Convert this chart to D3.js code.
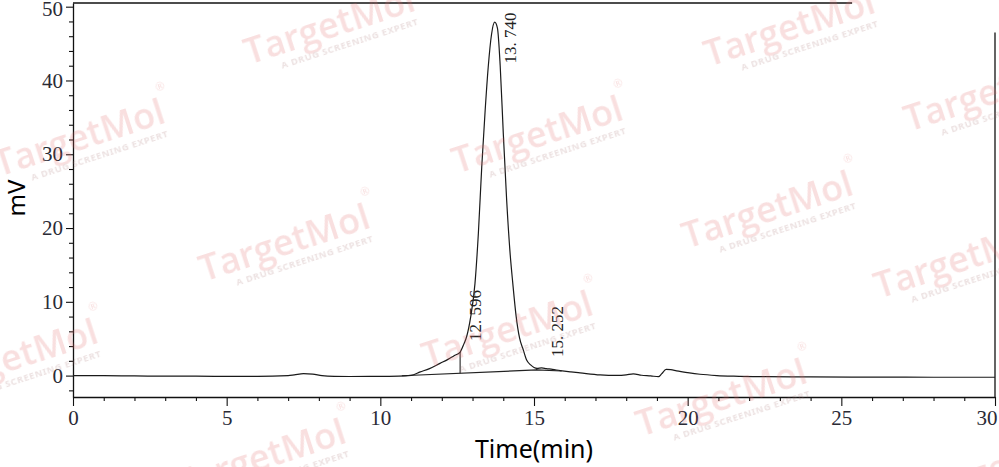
<!DOCTYPE html>
<html>
<head>
<meta charset="utf-8">
<script src="https://cdn.jsdelivr.net/npm/d3@7"></script>
<style>
  body { margin: 0; background: #fff; }
</style>
</head>
<body>
<div id="chart"></div>
<script>
// chromatogram trace (time in min, signal in mV)
var traceTime = [0, 1, 2, 3, 4, 5, 6, 7, 7.2, 7.5, 7.8, 8.1, 8.5, 9, 10, 10.6, 11.0, 11.3, 11.6, 11.94,
    12.2, 12.4, 12.59, 12.72, 12.81, 12.94, 13.08, 13.19, 13.30, 13.41, 13.51, 13.62, 13.72, 13.81,
    13.90, 14.0, 14.11, 14.22, 14.31, 14.42, 14.53, 14.65, 14.76, 14.89, 15.0, 15.1, 15.25, 15.4,
    15.6, 15.85, 16.2, 16.5, 17.15, 17.7, 18.0, 18.23, 18.5, 18.8, 19.05, 19.15, 19.3, 19.45, 19.64,
    20.0, 20.4, 20.95, 21.5, 22.57, 24, 26, 28, 30];
var traceMV = [0, 0, -0.05, -0.07, -0.08, -0.1, -0.1, 0, 0.1, 0.27, 0.2, 0, -0.1, -0.12, -0.1, -0.07, 0.04, 0.5, 0.95, 1.66,
    2.2, 2.7, 3.15, 4.3, 5.3, 7.95, 12.5, 19.3, 28.3, 35.9, 41.8, 46.3, 47.9, 47.1,
    42.0, 32.9, 23.8, 16.7, 12.5, 8.0, 5.1, 3.5, 2.1, 1.45, 1.1, 0.98, 1.04, 0.95,
    0.85, 0.68, 0.5, 0.37, 0.1, 0.03, 0.1, 0.23, 0.05, -0.04, -0.15, 0.23, 0.84, 0.8, 0.64,
    0.4, 0.18, 0.01, -0.08, -0.15, -0.18, -0.2, -0.22, -0.22];

// integrated peaks
var peakTimes = [12.596, 13.740, 15.252];
var peakLabels = ["12. 596", "13. 740", "15. 252"];

// integration baseline and drop lines
var baseTime = [10.7, 15.09, 15.9];
var baseMV = [-0.02, 0.77, 0.62];
var dropTimes = [12.596, 15.09];

// axis ticks
var xMajorTicks = [0, 5, 10, 15, 20, 25, 30];
var xMinorTicks = [1, 2, 3, 4, 6, 7, 8, 9, 11, 12, 13, 14, 16, 17, 18, 19, 21, 22, 23, 24, 26, 27, 28, 29];
var yMajorTicks = [0, 10, 20, 30, 40, 50];
var yMinorTicks = [-2, 2, 4, 6, 8, 12, 14, 16, 18, 22, 24, 26, 28, 32, 34, 36, 38, 42, 44, 46, 48];

// watermark centres (page pixels)
var markX = [330, 790, 990, 80, 538, 768, 285, 960, 13, 508, 722, 261, 1000];
var markY = [28, 30, 95, 140, 137, 212, 245, 262, 360, 332, 400, 460, 470];

function main(){
    var width = 999, height = 467;

    var svg = d3.select("#chart").append("svg")
        .attr("width", width)
        .attr("height", height);

    var x = d3.scaleLinear().domain([0, 30]).range([73, 995]);
    var y = d3.scaleLinear().domain([-2.9, 50.5]).range([397, 3]);

    var data = traceTime.map(function(t, i){ return {t: t, v: traceMV[i]}; });

    // value of the trace at any time (linear between read points)
    function traceAt(t){
        var i = d3.bisectLeft(traceTime, t);
        if (i <= 0) return traceMV[0];
        if (i >= traceTime.length) return traceMV[traceMV.length - 1];
        var t0 = traceTime[i-1], t1 = traceTime[i];
        return traceMV[i-1] + (traceMV[i] - traceMV[i-1]) * (t - t0) / (t1 - t0);
    }
    function baseAt(t){
        var i = d3.bisectLeft(baseTime, t);
        i = Math.max(1, Math.min(baseTime.length - 1, i));
        var t0 = baseTime[i-1], t1 = baseTime[i];
        return baseMV[i-1] + (baseMV[i] - baseMV[i-1]) * (t - t0) / (t1 - t0);
    }

    // partial frame, top and right
    svg.append("line")
        .attr("x1", x(0)).attr("x2", x(25.35))
        .attr("y1", y(50.5)).attr("y2", y(50.5))
        .attr("stroke", "#111").attr("stroke-width", 1.3);
    svg.append("line")
        .attr("x1", x(30)).attr("x2", x(30))
        .attr("y1", y(46.5)).attr("y2", y(-2.9))
        .attr("stroke", "#111").attr("stroke-width", 1.3);

    // X axis
    var xAxis = svg.append("g")
        .attr("transform", "translate(0," + y(-2.9) + ")")
        .call(d3.axisBottom(x).tickValues(xMajorTicks).tickSize(9).tickSizeOuter(0).tickPadding(4)
            .tickFormat(d3.format("d")));
    // last label sits flush against the right edge
    xAxis.selectAll(".tick text")
        .filter(function(d){ return d === 30; })
        .attr("text-anchor", "end")
        .attr("dx", "2px");
    svg.append("g")
        .attr("transform", "translate(0," + y(-2.9) + ")")
        .call(d3.axisBottom(x).tickValues(xMinorTicks).tickSize(4).tickSizeOuter(0).tickFormat(""))
        .select(".domain").remove();

    // Y axis
    var yAxis = svg.append("g")
        .attr("transform", "translate(" + x(0) + ",0)")
        .call(d3.axisLeft(y).tickValues(yMajorTicks).tickSize(7).tickSizeOuter(0).tickPadding(3)
            .tickFormat(d3.format("d")));
    yAxis.selectAll(".tick text")
        .filter(function(d){ return d === 50; })
        .attr("dy", "0.4em");
    svg.append("g")
        .attr("transform", "translate(" + x(0) + ",0)")
        .call(d3.axisLeft(y).tickValues(yMinorTicks).tickSize(4).tickSizeOuter(0).tickFormat(""))
        .select(".domain").remove();

    svg.selectAll(".domain").attr("stroke", "#111").attr("stroke-width", 1.3);
    svg.selectAll(".tick line").attr("stroke", "#111").attr("stroke-width", 1.1);
    svg.selectAll(".tick text")
        .attr("font-family", "'Liberation Serif', 'DejaVu Serif', serif")
        .attr("font-size", "21px")
        .attr("fill", "#2a2a35");

    // axis titles
    svg.append("text")
        .attr("x", 534).attr("y", 458)
        .attr("text-anchor", "middle")
        .attr("font-family", "'Noto Sans', sans-serif")
        .attr("font-size", "25px")
        .attr("fill", "#000")
        .text("Time(min)");
    svg.append("text")
        .attr("transform", "translate(25,198) rotate(-90)")
        .attr("text-anchor", "middle")
        .attr("font-family", "'Noto Sans', sans-serif")
        .attr("font-size", "24px")
        .attr("fill", "#000")
        .text("mV");

    // integration baseline
    var line = d3.line()
        .x(function(d){ return x(d.t); })
        .y(function(d){ return y(d.v); });
    svg.append("path")
        .datum(baseTime.map(function(t, i){ return {t: t, v: baseMV[i]}; }))
        .attr("d", line)
        .attr("fill", "none")
        .attr("stroke", "#222")
        .attr("stroke-width", 1.1);

    // drop lines
    svg.selectAll(".drop")
        .data(dropTimes)
        .enter().append("line")
        .attr("class", "drop")
        .attr("x1", function(d){ return x(d); })
        .attr("x2", function(d){ return x(d); })
        .attr("y1", function(d){ return y(baseAt(d)); })
        .attr("y2", function(d){ return y(traceAt(d)); })
        .attr("stroke", "#222")
        .attr("stroke-width", 1.1);

    // trace
    svg.append("path")
        .datum(data)
        .attr("d", line.curve(d3.curveMonotoneX))
        .attr("fill", "none")
        .attr("stroke", "#1a1a1a")
        .attr("stroke-width", 1.2);

    // peak retention time labels
    svg.selectAll(".peak")
        .data(peakTimes)
        .enter().append("text")
        .attr("class", "peak")
        .attr("transform", function(d){
            var py = y(traceAt(d));
            var ly = py - 11;
            if (ly - 52 < y(50.5)) ly = py + 40;   // no room above: put it below the apex
            return "translate(" + (x(d) + 21) + "," + ly + ") rotate(-90)";
        })
        .attr("font-family", "'Liberation Serif', 'DejaVu Serif', serif")
        .attr("font-size", "17px")
        .attr("fill", "#222")
        .text(function(d, i){ return peakLabels[i]; });

    // watermarks
    var marks = svg.append("g").attr("opacity", 0.22).attr("pointer-events", "none");
    markX.forEach(function(mx, i){
        var g = marks.append("g")
            .attr("transform", "translate(" + mx + "," + markY[i] + ") rotate(-18)");
        g.append("text")
            .attr("text-anchor", "middle")
            .attr("y", 10)
            .attr("font-family", "'Open Sans', 'Noto Sans', sans-serif")
            .attr("font-size", "36px")
            .attr("font-weight", 600)
            .attr("fill", "rgb(225,110,110)")
            .text("TargetMol");
        g.append("text")
            .attr("x", 88).attr("y", -22)
            .attr("font-family", "'Noto Sans', sans-serif")
            .attr("font-size", "11px")
            .attr("fill", "rgb(225,110,110)")
            .text("®");
        g.append("text")
            .attr("x", 14).attr("y", 24)
            .attr("text-anchor", "middle")
            .attr("font-family", "'Noto Sans', sans-serif")
            .attr("font-size", "9.5px")
            .attr("font-weight", 700)
            .attr("letter-spacing", "0.6px")
            .attr("fill", "rgb(170,120,120)")
            .text("A DRUG SCREENING EXPERT");
    });
}
main();
</script>
</body>
</html>
